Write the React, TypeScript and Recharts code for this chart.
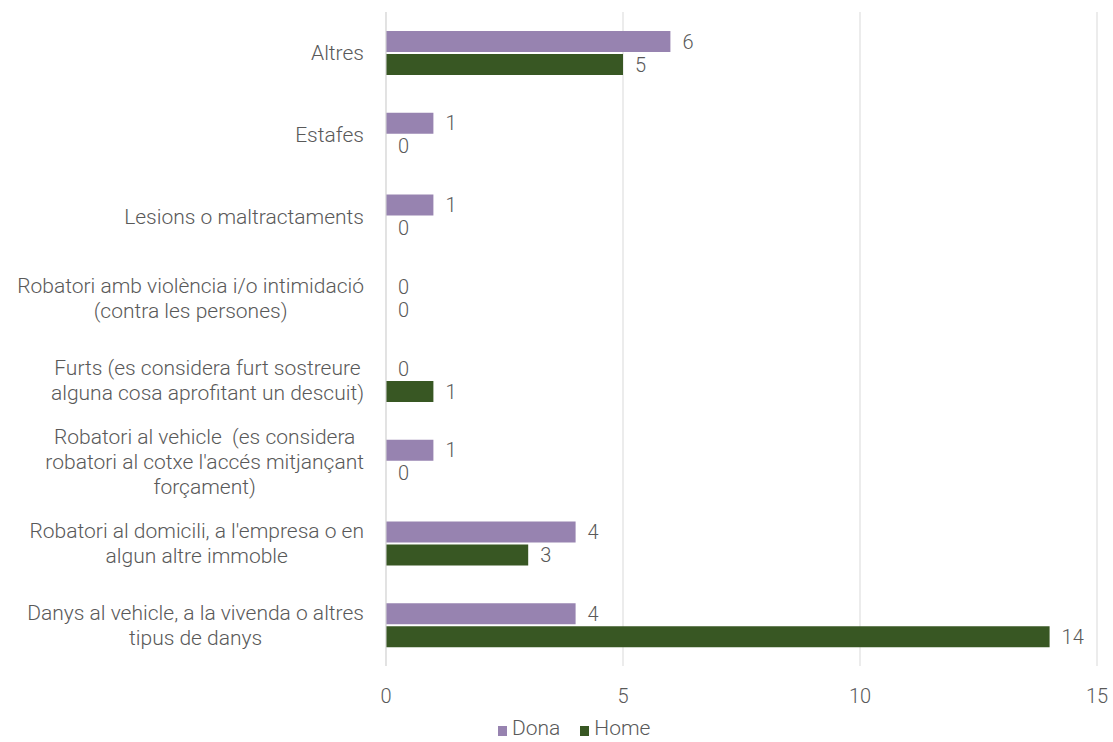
import React from "react"
import {
	Bar,
	BarChart,
	CartesianGrid,
	Cell,
	LabelList,
	XAxis,
	YAxis
} from "recharts"


// categories, top to bottom ("\n" marks a line break in the label)
const categories = [
	"Altres",
	"Estafes",
	"Lesions o maltractaments",
	"Robatori amb violència i/o intimidació\n(contra les persones)",
	"Furts (es considera furt sostreure\nalguna cosa aprofitant un descuit)",
	"Robatori al vehicle  (es considera\nrobatori al cotxe l'accés mitjançant\nforçament)",
	"Robatori al domicili, a l'empresa o en\nalgun altre immoble",
	"Danys al vehicle, a la vivenda o altres\ntipus de danys"
]

const donaValues = [6, 1, 1, 0, 0, 1, 4, 4]
const homeValues = [5, 0, 0, 0, 1, 0, 3, 14]

const xTicks = [0, 5, 10, 15]

const DONA_COLOR = "#9783b0"
const HOME_COLOR = "#385723"
const TEXT_COLOR = "#595959"
const GRID_COLOR = "#d9d9d9"
const FONT = "Roboto"
const LABEL_SIZE = 21
const NUMBER_SIZE = 20


const data = categories.map((name, i) => ({
	name,
	Dona: donaValues[i],
	Home: homeValues[i]
}))


let measureCtx: CanvasRenderingContext2D | null = null

function textWidth(text: string) {
	if (!measureCtx) {
		measureCtx = document.createElement("canvas").getContext("2d")
	}
	if (!measureCtx) return text.length * 10
	measureCtx.font = `300 ${LABEL_SIZE}px ${FONT}`
	return measureCtx.measureText(text).width
}


// multi-line category label, lines centred inside a right-aligned block
function CategoryTick(props: any) {
	const { x, y, payload } = props
	const lines: string[] = String(payload.value).split("\n")
	const blockWidth = Math.max(...lines.map(textWidth))
	const cx = x - blockWidth / 2
	const lineHeight = 25
	const firstY = y - ((lines.length - 1) * lineHeight) / 2

	return (
		<text
			textAnchor="middle"
			fill={TEXT_COLOR}
			fontSize={LABEL_SIZE}
			fontWeight={300}
			fontFamily={FONT}
			style={{ whiteSpace: "pre" }}
		>
			{lines.map((line, i) => (
				<tspan
					key={i}
					x={cx}
					y={firstY + i * lineHeight}
					dy="0.355em"
				>
					{line}
				</tspan>
			))}
		</text>
	)
}


// value label to the right of the bar end, zero values included
function ValueLabel(props: any) {
	const { x, y, width, height, value } = props
	const barEnd = Number(x) + (Number(value) ? Number(width || 0) : 0)
	return (
		<text
			x={barEnd + 12}
			y={Number(y) + Number(height) / 2}
			dy="0.355em"
			fill={TEXT_COLOR}
			fontSize={NUMBER_SIZE}
			fontWeight={300}
			fontFamily={FONT}
		>
			{value}
		</text>
	)
}


function ChartLegend() {
	const items = [
		{ label: "Dona", color: DONA_COLOR },
		{ label: "Home", color: HOME_COLOR }
	]

	return (
		<div
			style={{
				position: "absolute",
				left: 498,
				top: 718,
				height: 20,
				overflow: "visible",
				display: "flex",
				alignItems: "center",
				gap: 20,
				fontFamily: FONT,
				fontWeight: 300,
				fontSize: LABEL_SIZE,
				lineHeight: "20px",
				color: TEXT_COLOR
			}}
		>
			{items.map(item => (
				<div
					key={item.label}
					style={{ display: "flex", alignItems: "center", gap: 5 }}
				>
					<span
						style={{
							display: "inline-block",
							width: 9,
							height: 10,
							marginTop: 6,
							background: item.color
						}}
					/>
					<span>{item.label}</span>
				</div>
			))}
		</div>
	)
}


export default function App() {
	return (
		<div
			style={{
				position: "absolute",
				left: 0,
				top: 0,
				width: 1113,
				height: 742,
				overflow: "hidden",
				background: "#fff"
			}}
		>
			<BarChart
				width={1113}
				height={742}
				data={data}
				layout="vertical"
				margin={{ top: 12, right: 16, bottom: 36, left: 0 }}
				barSize={21}
				barGap={2}
				style={{ fontFamily: FONT }}
			>

				<CartesianGrid
					horizontal={false}
					vertical={true}
					stroke={GRID_COLOR}
				/>

				<XAxis
					type="number"
					domain={[0, 15]}
					ticks={xTicks}
					axisLine={false}
					tickLine={false}
					tickMargin={17}
					height={40}
					tick={{ fill: TEXT_COLOR, fontSize: NUMBER_SIZE, fontWeight: 300 }}
				/>

				<YAxis
					type="category"
					dataKey="name"
					width={386}
					axisLine={{ stroke: GRID_COLOR }}
					tickLine={false}
					tickMargin={16}
					interval={0}
					tick={<CategoryTick />}
				/>

				<Bar
					dataKey="Dona"
					fill={DONA_COLOR}
					minPointSize={1}
					isAnimationActive={false}
				>
					{donaValues.map((v, i) => (
						<Cell key={i} fill={v ? DONA_COLOR : "transparent"} />
					))}
					<LabelList dataKey="Dona" content={<ValueLabel />} />
				</Bar>

				<Bar
					dataKey="Home"
					fill={HOME_COLOR}
					minPointSize={1}
					isAnimationActive={false}
				>
					{homeValues.map((v, i) => (
						<Cell key={i} fill={v ? HOME_COLOR : "transparent"} />
					))}
					<LabelList dataKey="Home" content={<ValueLabel />} />
				</Bar>

			</BarChart>
			<ChartLegend />
		</div>
	)
}
